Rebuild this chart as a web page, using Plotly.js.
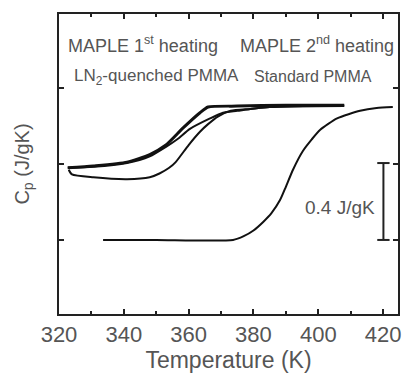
<!DOCTYPE html>
<html><head><meta charset="utf-8">
<script src="https://cdn.plot.ly/plotly-3.0.1.min.js"></script>
<style>html,body{margin:0;padding:0;background:#fff;}#chart{width:407px;height:373px;}</style>
</head><body><div id="chart"></div>
<script>
// Temperature (K) and Cp (J/gK, offset units)
const maple1T = [322.7, 330.6, 341, 348, 353, 358.3, 363.5, 366, 375, 390, 408];
const maple1Cp = [0.38, 0.39, 0.41, 0.45, 0.50, 0.59, 0.67, 0.70, 0.705, 0.71, 0.71];
const maple2T = [322.7, 330.6, 341, 348, 353, 356.5, 360.4, 366.6, 370.6, 375, 379, 385, 408];
const maple2Cp = [0.38, 0.385, 0.405, 0.44, 0.49, 0.53, 0.585, 0.64, 0.67, 0.68, 0.69, 0.70, 0.71];
const ln2T = [323, 324, 330.6, 341, 348, 351, 354, 356, 360, 363.5, 366, 369, 373, 379, 385, 408];
const ln2Cp = [0.37, 0.345, 0.33, 0.32, 0.33, 0.35, 0.38, 0.41, 0.50, 0.57, 0.61, 0.65, 0.68, 0.69, 0.70, 0.705];
const stdT = [333.6, 350, 373.7, 377, 380, 383, 385.5, 388.2, 390, 392.2, 395.3, 398, 400.6, 405.8, 412.9, 418, 423];
const stdCp = [0.0, 0.0, 0.0, 0.02, 0.05, 0.095, 0.14, 0.21, 0.28, 0.37, 0.47, 0.53, 0.58, 0.64, 0.68, 0.695, 0.70];
// scale bar: 0.4 J/gK
const barT = [418.2, 422.0, null, 420.1, 420.1, null, 418.2, 422.0];
const barCp = [0.405, 0.405, null, 0.405, 0.0, null, 0.0, 0.0];
const legendLabels = ["MAPLE 1<sup>st</sup> heating", "MAPLE 2<sup>nd</sup> heating", "LN<sub>2</sub>-quenched PMMA", "Standard PMMA"];
const barLabel = "0.4 J/gK";

const line = (x, y, w) => ({x, y, mode: 'lines', type: 'scatter', line: {color: '#111', width: w, shape: 'spline', smoothing: 0.6}, hoverinfo: 'skip'});
const traces = [
  line(ln2T, ln2Cp, 2),
  line(maple2T, maple2Cp, 2),
  line(maple1T, maple1Cp, 3),
  line(stdT, stdCp, 2),
  {x: barT, y: barCp, mode: 'lines', type: 'scatter', line: {color: '#222', width: 2}, hoverinfo: 'skip'}
];
const grey = '#555';
const ann = (text, x, y, size, anchor) => ({text, x, y, xref: 'paper', yref: 'paper', showarrow: false, xanchor: anchor || 'left', yanchor: 'middle', font: {family: 'Liberation Sans, Arial', size, color: grey}});
const layout = {
  width: 407, height: 373,
  margin: {l: 59, r: 9, t: 14, b: 59},
  paper_bgcolor: '#fff', plot_bgcolor: '#fff',
  showlegend: false,
  font: {family: 'Liberation Sans, Arial', color: grey},
  xaxis: {
    range: [320, 424.6], tickvals: [320, 340, 360, 380, 400, 420],
    ticks: 'inside', ticklen: 5, tickwidth: 2, tickcolor: '#222',
    minor: {tickvals: [330, 350, 370, 390, 410], ticks: 'inside', ticklen: 3, tickwidth: 2, tickcolor: '#222'},
    showline: true, linecolor: '#222', linewidth: 2, mirror: 'ticks',
    showgrid: false, zeroline: false,
    tickfont: {size: 22, color: grey},
    title: {text: 'Temperature (K)', font: {size: 23, color: grey}, standoff: 4}
  },
  yaxis: {
    range: [-0.39, 1.19], tickvals: [0, 0.4, 0.8],
    ticks: 'inside', ticklen: 5, tickwidth: 2, tickcolor: '#222',
    showticklabels: false,
    showline: true, linecolor: '#222', linewidth: 2, mirror: 'ticks',
    showgrid: false, zeroline: false,
    title: {text: 'C<sub>p</sub> (J/gK)', font: {size: 20, color: grey}, standoff: 22}
  },
  annotations: [
    ann(legendLabels[0], 0.02, 0.897, 18),
    ann(legendLabels[1], 0.528, 0.897, 18),
    ann(legendLabels[2], 0.038, 0.79, 17),
    ann(legendLabels[3], 0.57, 0.79, 16),
    {text: barLabel, x: 418, y: 0.17, xref: 'x', yref: 'y', showarrow: false, xanchor: 'right', yanchor: 'middle', font: {family: 'Liberation Sans, Arial', size: 19, color: grey}}
  ]
};
Plotly.newPlot('chart', traces, layout, {displayModeBar: false, staticPlot: true});
</script></body></html>
